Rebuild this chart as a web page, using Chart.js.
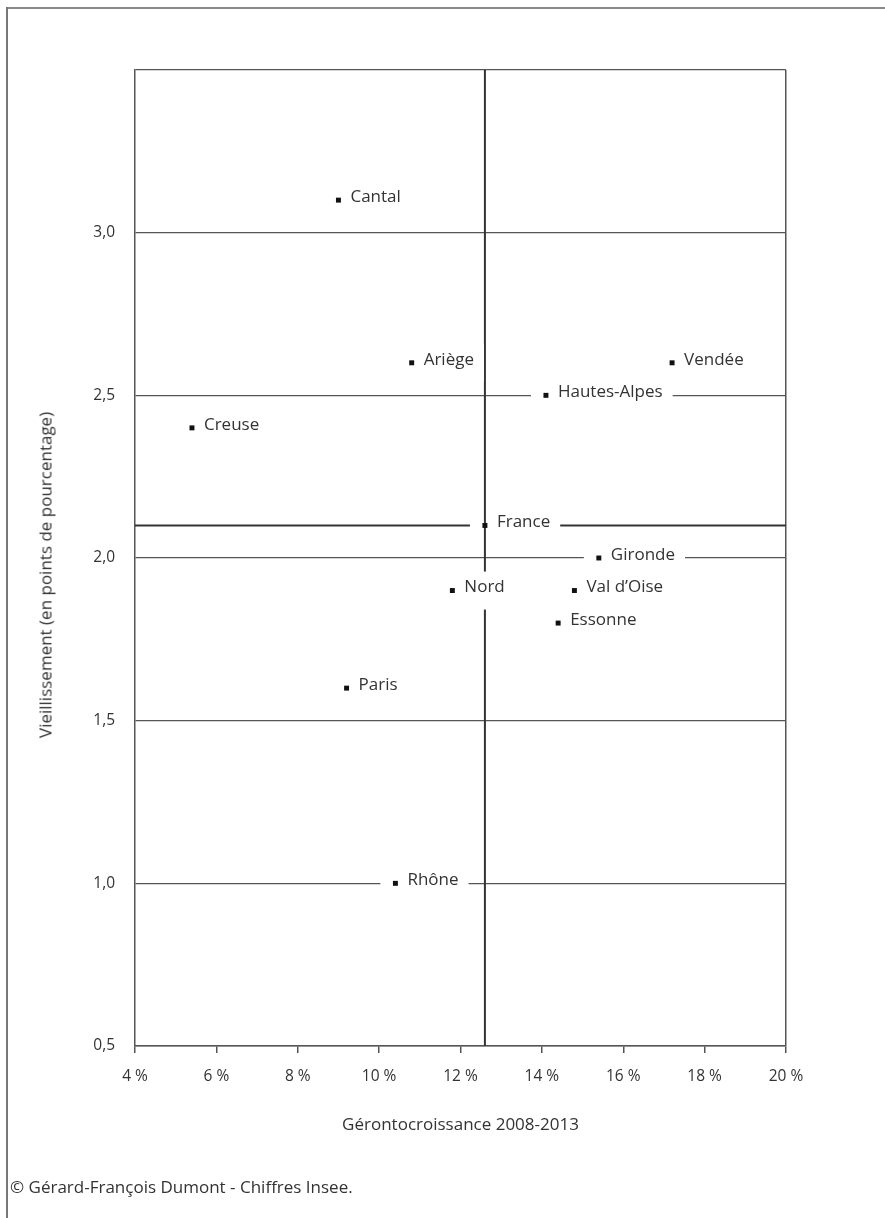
<!DOCTYPE html>
<html>
<head>
<meta charset="utf-8">
<script src="https://cdn.jsdelivr.net/npm/chart.js@4"></script>
<style>
  body { margin: 0; background: #fff; font-family: 'Open Sans', sans-serif; color: #333; }
  #wrap { position: absolute; left: 0; top: 0; width: 885px; height: 1218px; }
  .frameTop { position: absolute; left: 6px; top: 7px; width: 879px; height: 2px; background: #888; }
  .frameLeft { position: absolute; left: 6px; top: 7px; width: 2px; height: 1211px; background: #777; }
  .ytitle { position: absolute; left: 45px; top: 575px; transform: translate(-50%, -50%) rotate(-90deg);
            white-space: nowrap; font-size: 17px; color: #333; }
  .source { position: absolute; left: 10px; top: 1175px; font-size: 17px; color: #333; }
</style>
</head>
<body>
<div id="wrap"><canvas id="scatter"></canvas></div>
<div class="frameTop"></div>
<div class="frameLeft"></div>
<div class="ytitle">Vieillissement (en points de pourcentage)</div>
<div class="source">© Gérard-François Dumont - Chiffres Insee.</div>
<script>
// departements
const regions = ['Cantal', 'Ariège', 'Vendée', 'Hautes-Alpes', 'Creuse', 'France',
  'Gironde', 'Nord', 'Val d’Oise', 'Essonne', 'Paris', 'Rhône']
const gerontocroissance = [9.0, 10.8, 17.2, 14.1, 5.4, 12.6, 15.4, 11.8, 14.8, 14.4, 9.2, 10.4]
const vieillissement = [3.1, 2.6, 2.6, 2.5, 2.4, 2.1, 2.0, 1.9, 1.9, 1.8, 1.6, 1.0]

// France reference values
const franceX = 12.6
const franceY = 2.1

const xTicks = [4, 6, 8, 10, 12, 14, 16, 18, 20]
const yMin = 0.5
const yMax = 3.5

var points = []
for (var i = 0; i < regions.length; i++) {
  points.push({ x: gerontocroissance[i], y: vieillissement[i] })
}

Chart.defaults.font.family = "'Open Sans'"
Chart.defaults.color = '#333'

// labels with a white box that cuts the lines behind them
const pointLabels = {
  id: 'pointLabels',
  beforeDatasetDraw: function (chart, args) {
    if (args.index !== 0) return
    var ctx = chart.ctx
    var meta = chart.getDatasetMeta(0)
    ctx.save()
    ctx.font = "17px 'Open Sans'"
    ctx.textBaseline = 'middle'
    for (var i = 0; i < meta.data.length; i++) {
      var p = meta.data[i]
      var w = ctx.measureText(regions[i]).width
      ctx.fillStyle = '#fff'
      ctx.fillRect(p.x - 15, p.y - 19, 13, 38)
      ctx.fillRect(p.x + 2, p.y - 19, w + 20, 38)
      ctx.fillStyle = '#333'
      ctx.fillText(regions[i], p.x + 12, p.y - 3)
    }
    ctx.restore()
  }
}

new Chart(document.getElementById('scatter'), {
  type: 'scatter',
  data: {
    datasets: [
      {
        label: 'Départements',
        data: points,
        pointStyle: 'rect',
        pointRadius: 3.5,
        pointHoverRadius: 3.5,
        backgroundColor: '#111',
        borderWidth: 0,
        order: 0
      },
      {
        label: 'France horizontal',
        data: [{ x: xTicks[0], y: franceY }, { x: xTicks[xTicks.length - 1], y: franceY }],
        showLine: true,
        pointRadius: 0,
        borderColor: '#333',
        borderWidth: 2,
        order: 1
      },
      {
        label: 'France vertical',
        data: [{ x: franceX, y: yMin }, { x: franceX, y: yMax }],
        showLine: true,
        pointRadius: 0,
        borderColor: '#333',
        borderWidth: 2,
        order: 1
      }
    ]
  },
  options: {
    responsive: true,
    maintainAspectRatio: false,
    animation: false,
    layout: { padding: { top: 70, right: 99, left: 0, bottom: 83 } },
    plugins: {
      legend: { display: false },
      tooltip: { enabled: false }
    },
    scales: {
      x: {
        type: 'linear',
        min: 4,
        max: 20,
        afterFit: function (scale) { scale.height = 89 },
        afterBuildTicks: function (scale) {
          scale.ticks = xTicks.map(function (v) { return { value: v } })
        },
        ticks: {
          padding: 14,
          font: { size: 15.5 },
          color: '#333',
          callback: function (v) { return v + ' %' }
        },
        grid: {
          color: function (c) { return c.tick && c.tick.value === 20 ? '#555' : 'rgba(0,0,0,0)' },
          tickColor: '#555',
          tickLength: 7,
          lineWidth: 1.5
        },
        border: { color: '#555', width: 1.5 },
        title: {
          display: true,
          text: 'Gérontocroissance 2008-2013',
          font: { size: 17 },
          color: '#333',
          padding: { top: 0, bottom: 0 }
        }
      },
      y: {
        min: yMin,
        max: yMax,
        afterFit: function (scale) { scale.width = 135 },
        ticks: {
          stepSize: 0.5,
          padding: 20,
          font: { size: 15.5 },
          color: '#333',
          callback: function (v) { return v === yMax ? '' : v.toFixed(1).replace('.', ',') }
        },
        grid: {
          color: '#555',
          lineWidth: 1.3,
          drawTicks: false
        },
        border: { color: '#555', width: 1.5 }
      }
    }
  },
  plugins: [pointLabels]
})
</script>
</body>
</html>
